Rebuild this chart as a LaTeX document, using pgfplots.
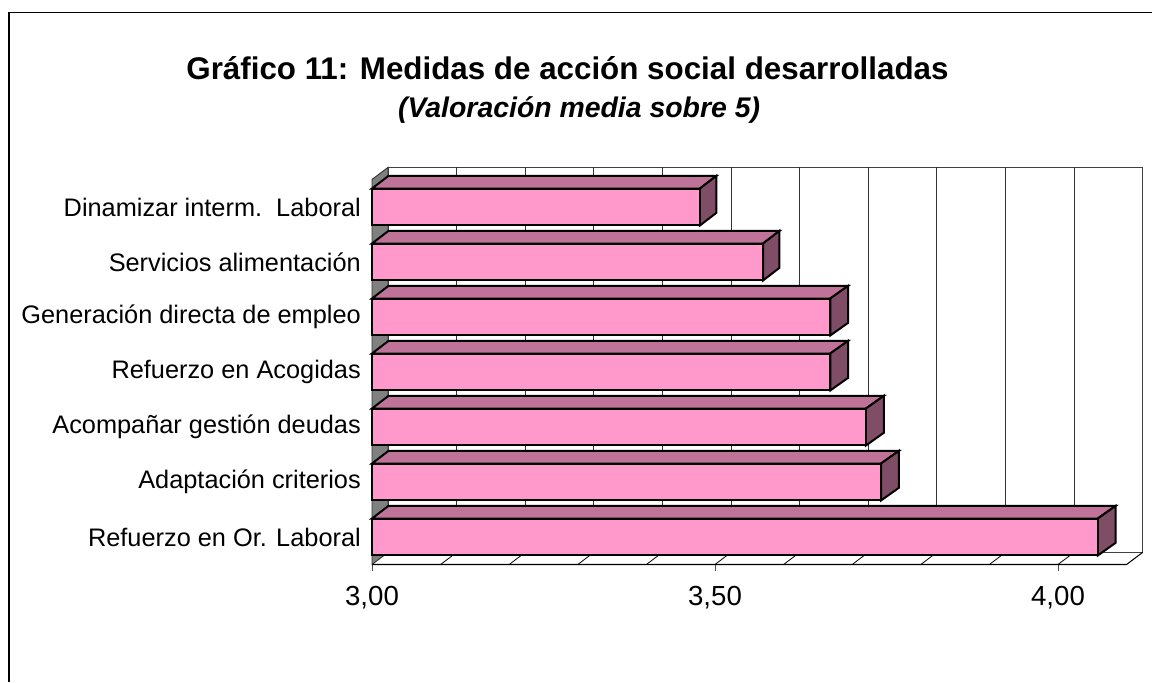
\documentclass[border=0pt]{standalone}
\usepackage{fontspec}
\setmainfont{Liberation Sans}
\usepackage{pgfplots}
\pgfplotsset{compat=1.18}
\definecolor{barfront}{HTML}{FF99CC}
\definecolor{bartop}{HTML}{BF7399}
\definecolor{barside}{HTML}{804D66}
\definecolor{wallgray}{HTML}{808080}
\newcommand\face[2]{\addplot[draw=black,line width=1.5pt,line join=miter,fill=#1,mark=none] coordinates {#2} -- cycle;}
\begin{document}
\begin{tikzpicture}
\useasboundingbox (0,0) rectangle (864pt,511.5pt);
\draw[line width=1pt] (6.75pt,0) -- (6.75pt,502.1pt) -- (864pt,502.1pt);
\node[anchor=base,font=\fontsize{23.5}{28}\selectfont\bfseries] at (425.6pt,452pt) {Gráfico 11: Medidas de acción social desarrolladas};
\node[anchor=base,font=\fontsize{21.3}{25}\selectfont\bfseries\itshape] at (434.3pt,423.2pt) {(Valoración media sobre 5)};
\begin{axis}[
  at={(279pt,88.125pt)},anchor=south west,
  scale only axis,width=565.95pt,height=288.75pt,
  xmin=3,xmax=4.1,ymin=-0.5,ymax=6.5,
  clip=false,
  unbounded coords=jump,
  axis line style={draw=none},
  xtick={3,3.5,4},
  ytick={0,1,2,3,4,5,6},
  yticklabels={Refuerzo en Or. Laboral,Adaptación criterios,Acompañar gestión deudas,Refuerzo en Acogidas,Generación directa de empleo,Servicios alimentación,Dinamizar interm.\ \ Laboral},
  tick align=outside,
  x tick style={black!70,line width=0.6pt},
  y tick style={draw=none},
  major tick length=5.2pt,
  xtick pos=bottom,ytick pos=left,
  /pgf/number format/.cd,fixed,fixed zerofill,precision=2,use comma,assume math mode=true,
  /pgfplots/.cd,
  x tick label style={font=\fontsize{20.7}{25}\selectfont},
  xticklabel shift=7.5pt,
  y tick label style={font=\fontsize{19}{23}\selectfont,inner sep=0pt},
  yticklabel shift=3pt,
]
% back wall and grid
\addplot[draw=black!75,line width=0.7pt,mark=none] coordinates {(3.0233,-0.28)(3.0233,6.72)(4.1233,6.72)(4.1233,-0.28)(3.0233,-0.28)};
\addplot[draw=black!80,line width=0.7pt,mark=none] coordinates {
(3.1233,-0.28)(3.1233,6.72)(nan,nan)(3.2233,-0.28)(3.2233,6.72)(nan,nan)(3.3233,-0.28)(3.3233,6.72)(nan,nan)
(3.4233,-0.28)(3.4233,6.72)(nan,nan)(3.5233,-0.28)(3.5233,6.72)(nan,nan)(3.6233,-0.28)(3.6233,6.72)(nan,nan)
(3.7233,-0.28)(3.7233,6.72)(nan,nan)(3.8233,-0.28)(3.8233,6.72)(nan,nan)(3.9233,-0.28)(3.9233,6.72)(nan,nan)
(4.0233,-0.28)(4.0233,6.72)};
% left wall
\addplot[draw=black!80,line width=0.7pt,fill=wallgray,mark=none] coordinates {(3,-0.5)(3.0233,-0.28)(3.0233,6.72)(3,6.5)} -- cycle;
% floor
\addplot[draw=black,line width=0.8pt,mark=none] coordinates {(3,-0.5)(4.1,-0.5)(4.1233,-0.28)};
\addplot[draw=black,line width=0.6pt,mark=none] coordinates {
(3.1,-0.5)(3.1233,-0.28)(nan,nan)(3.2,-0.5)(3.2233,-0.28)(nan,nan)(3.3,-0.5)(3.3233,-0.28)(nan,nan)
(3.4,-0.5)(3.4233,-0.28)(nan,nan)(3.5,-0.5)(3.5233,-0.28)(nan,nan)(3.6,-0.5)(3.6233,-0.28)(nan,nan)
(3.7,-0.5)(3.7233,-0.28)(nan,nan)(3.8,-0.5)(3.8233,-0.28)(nan,nan)(3.9,-0.5)(3.9233,-0.28)(nan,nan)
(4.0,-0.5)(4.0233,-0.28)};
% Dinamizar interm. Laboral 3.478
\face{bartop}{(3,6.336)(3.478,6.336)(3.502,6.566)(3.024,6.566)}
\face{barside}{(3.478,5.664)(3.478,6.336)(3.502,6.566)(3.502,5.894)}
\face{barfront}{(3,5.664)(3.478,5.664)(3.478,6.336)(3,6.336)}
% Servicios alimentacion 3.57
\face{bartop}{(3,5.336)(3.57,5.336)(3.594,5.566)(3.024,5.566)}
\face{barside}{(3.57,4.664)(3.57,5.336)(3.594,5.566)(3.594,4.894)}
\face{barfront}{(3,4.664)(3.57,4.664)(3.57,5.336)(3,5.336)}
% Generacion directa 3.668
\face{bartop}{(3,4.336)(3.668,4.336)(3.694,4.566)(3.024,4.566)}
\face{barside}{(3.668,3.664)(3.668,4.336)(3.694,4.566)(3.694,3.894)}
\face{barfront}{(3,3.664)(3.668,3.664)(3.668,4.336)(3,4.336)}
% Refuerzo en Acogidas 3.668
\face{bartop}{(3,3.336)(3.668,3.336)(3.694,3.566)(3.024,3.566)}
\face{barside}{(3.668,2.664)(3.668,3.336)(3.694,3.566)(3.694,2.894)}
\face{barfront}{(3,2.664)(3.668,2.664)(3.668,3.336)(3,3.336)}
% Acompanar gestion deudas 3.72
\face{bartop}{(3,2.336)(3.72,2.336)(3.746,2.566)(3.024,2.566)}
\face{barside}{(3.72,1.664)(3.72,2.336)(3.746,2.566)(3.746,1.894)}
\face{barfront}{(3,1.664)(3.72,1.664)(3.72,2.336)(3,2.336)}
% Adaptacion criterios 3.742
\face{bartop}{(3,1.336)(3.742,1.336)(3.768,1.566)(3.024,1.566)}
\face{barside}{(3.742,0.664)(3.742,1.336)(3.768,1.566)(3.768,0.894)}
\face{barfront}{(3,0.664)(3.742,0.664)(3.742,1.336)(3,1.336)}
% Refuerzo en Or. Laboral 4.058
\face{bartop}{(3,0.336)(4.058,0.336)(4.084,0.566)(3.024,0.566)}
\face{barside}{(4.058,-0.336)(4.058,0.336)(4.084,0.566)(4.084,-0.106)}
\face{barfront}{(3,-0.336)(4.058,-0.336)(4.058,0.336)(3,0.336)}
\end{axis}
\end{tikzpicture}
\end{document}
